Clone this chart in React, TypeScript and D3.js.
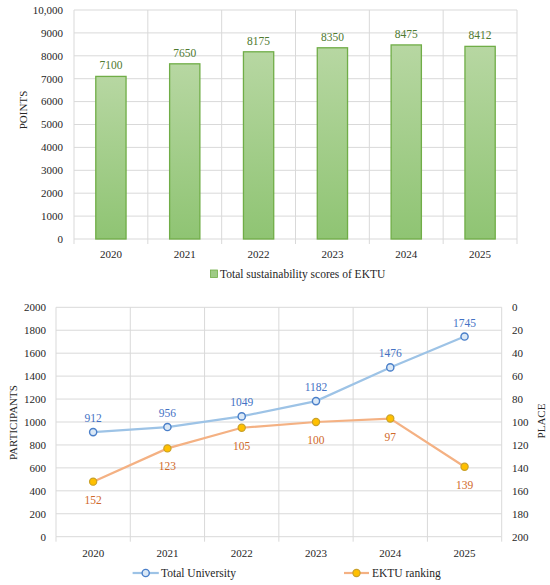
import React from "react";
import * as d3 from "d3";

const years = ["2020", "2021", "2022", "2023", "2024", "2025"];
const scores = [7100, 7650, 8175, 8350, 8475, 8412];
const scoreTicks = [0, 1000, 2000, 3000, 4000, 5000, 6000, 7000, 8000, 9000, 10000];
const totalUniversity = [912, 956, 1049, 1182, 1476, 1745];
const ektuRanking = [152, 123, 105, 100, 97, 139];
const participantTicks = [0, 200, 400, 600, 800, 1000, 1200, 1400, 1600, 1800, 2000];
const placeTicks = [0, 20, 40, 60, 80, 100, 120, 140, 160, 180, 200];

const FONT = "'Liberation Serif', 'Times New Roman', serif";
const GRID = "#d9d9d9";

export default function App() {
  // top chart
  const t = { left: 74, right: 517, top: 10, bottom: 239 };
  const xTop = d3.scaleBand().domain(years).range([t.left, t.right]).paddingInner(0).paddingOuter(0);
  const yTop = d3.scaleLinear().domain([0, 10000]).range([t.bottom, t.top]);
  const barW = xTop.bandwidth() * 0.41;
  const fmtTop = (v: number) => (v >= 10000 ? d3.format(",")(v) : String(v));

  // bottom chart
  const b = { left: 56, right: 501.7, top: 307.3, bottom: 536.7 };
  const xBot = d3.scaleBand().domain(years).range([b.left, b.right]);
  const yLeft = d3.scaleLinear().domain([0, 2000]).range([b.bottom, b.top]);
  const yRight = d3.scaleLinear().domain([0, 200]).range([b.top, b.bottom]);
  const cx = (y: string) => (xBot(y) as number) + xBot.bandwidth() / 2;
  const lineGen = d3.line<[number, number]>().x((d) => d[0]).y((d) => d[1]);
  const tuPts: [number, number][] = years.map((y, i) => [cx(y), yLeft(totalUniversity[i])]);
  const ekPts: [number, number][] = years.map((y, i) => [cx(y), yRight(ektuRanking[i])]);

  return (
    <svg
      width={550}
      height={585}
      style={{ position: "absolute", left: 0, top: 0, background: "#fff" }}
      fontFamily={FONT}
    >
      <defs>
        <linearGradient id="barGrad" x1="0" y1="0" x2="0" y2="1">
          <stop offset="0%" stopColor="#b7d7a2" />
          <stop offset="100%" stopColor="#8fc473" />
        </linearGradient>
      </defs>

      {/* ---------- TOP CHART ---------- */}
      {scoreTicks.map((v) => (
        <g key={"tg" + v}>
          <line x1={t.left} x2={t.right} y1={yTop(v)} y2={yTop(v)} stroke={GRID} strokeWidth={1} />
          <text x={63} y={yTop(v)} dy="0.35em" textAnchor="end" fontSize={11} fill="#262626">
            {fmtTop(v)}
          </text>
        </g>
      ))}
      {years.concat(["end"]).map((y, i) => {
        const x = t.left + i * xTop.bandwidth();
        return (
          <g key={"tv" + i}>
            <line x1={x} x2={x} y1={t.top} y2={t.bottom} stroke={GRID} strokeWidth={1} />
            <line x1={x} x2={x} y1={t.bottom} y2={t.bottom + 5} stroke={GRID} strokeWidth={1} />
          </g>
        );
      })}
      {years.map((y, i) => {
        const x = (xTop(y) as number) + xTop.bandwidth() / 2;
        return (
          <g key={"bar" + y}>
            <rect
              x={x - barW / 2}
              y={yTop(scores[i])}
              width={barW}
              height={t.bottom - yTop(scores[i])}
              fill="url(#barGrad)"
              stroke="#70ad47"
              strokeWidth={1.3}
            />
            <text x={x} y={yTop(scores[i]) - 7} textAnchor="middle" fontSize={11.5} fill="#4f7a30">
              {scores[i]}
            </text>
            <text x={x} y={258} textAnchor="middle" fontSize={11} fill="#262626">
              {y}
            </text>
          </g>
        );
      })}
      <text
        transform={`translate(27,110) rotate(-90)`}
        textAnchor="middle"
        fontSize={11}
        fill="#262626"
      >
        POINTS
      </text>
      <rect x={210.5} y={270} width={7} height={7.5} fill="#9fcb86" stroke="#70ad47" strokeWidth={0.8} />
      <text x={220} y={278} fontSize={11.5} fill="#262626">
        Total sustainability scores of EKTU
      </text>

      {/* ---------- BOTTOM CHART ---------- */}
      {participantTicks.map((v) => (
        <g key={"bg" + v}>
          <line x1={b.left} x2={b.right} y1={yLeft(v)} y2={yLeft(v)} stroke={GRID} strokeWidth={1} />
          <text x={46} y={yLeft(v)} dy="0.35em" textAnchor="end" fontSize={11} fill="#262626">
            {v}
          </text>
        </g>
      ))}
      {placeTicks.map((v) => (
        <text key={"pr" + v} x={512} y={yRight(v)} dy="0.35em" textAnchor="start" fontSize={11} fill="#262626">
          {v}
        </text>
      ))}
      {years.concat(["end"]).map((y, i) => {
        const x = b.left + i * xBot.bandwidth();
        return (
          <g key={"bv" + i}>
            <line x1={x} x2={x} y1={b.top} y2={b.bottom} stroke={GRID} strokeWidth={1} />
            <line x1={x} x2={x} y1={b.bottom} y2={b.bottom + 5} stroke={GRID} strokeWidth={1} />
          </g>
        );
      })}
      {years.map((y) => (
        <text key={"bx" + y} x={cx(y)} y={557} textAnchor="middle" fontSize={11} fill="#262626">
          {y}
        </text>
      ))}

      <path d={lineGen(tuPts) || ""} fill="none" stroke="#9dc3e6" strokeWidth={2.2} />
      <path d={lineGen(ekPts) || ""} fill="none" stroke="#f4b183" strokeWidth={2.2} />
      {tuPts.map((p, i) => (
        <g key={"tu" + i}>
          <circle cx={p[0]} cy={p[1]} r={3.6} fill="#dae8f6" stroke="#4a7fc9" strokeWidth={1.4} />
          <text x={p[0]} y={p[1] - 10} textAnchor="middle" fontSize={11.5} fill="#4472c4">
            {totalUniversity[i]}
          </text>
        </g>
      ))}
      {ekPts.map((p, i) => (
        <g key={"ek" + i}>
          <circle cx={p[0]} cy={p[1]} r={3.6} fill="#ffc000" stroke="#c9a12a" strokeWidth={1.2} />
          <text x={p[0]} y={p[1] + 22} textAnchor="middle" fontSize={11.5} fill="#d0692a">
            {ektuRanking[i]}
          </text>
        </g>
      ))}

      <text
        transform={`translate(17,422.6) rotate(-90)`}
        textAnchor="middle"
        fontSize={11}
        fill="#262626"
      >
        PARTICIPANTS
      </text>
      <text
        transform={`translate(544.5,421) rotate(-90)`}
        textAnchor="middle"
        fontSize={11}
        fill="#262626"
      >
        PLACE
      </text>

      {/* bottom legend */}
      <line x1={132.6} x2={158.8} y1={573} y2={573} stroke="#9dc3e6" strokeWidth={2.2} />
      <circle cx={145.7} cy={573} r={3.6} fill="#dae8f6" stroke="#4a7fc9" strokeWidth={1.4} />
      <text x={161} y={577} fontSize={11.5} fill="#262626">
        Total University
      </text>
      <line x1={344} x2={369} y1={573} y2={573} stroke="#f4b183" strokeWidth={2.2} />
      <circle cx={356.5} cy={573} r={3.6} fill="#ffc000" stroke="#c9a12a" strokeWidth={1.2} />
      <text x={372} y={577} fontSize={11.5} fill="#262626">
        EKTU ranking
      </text>
    </svg>
  );
}
